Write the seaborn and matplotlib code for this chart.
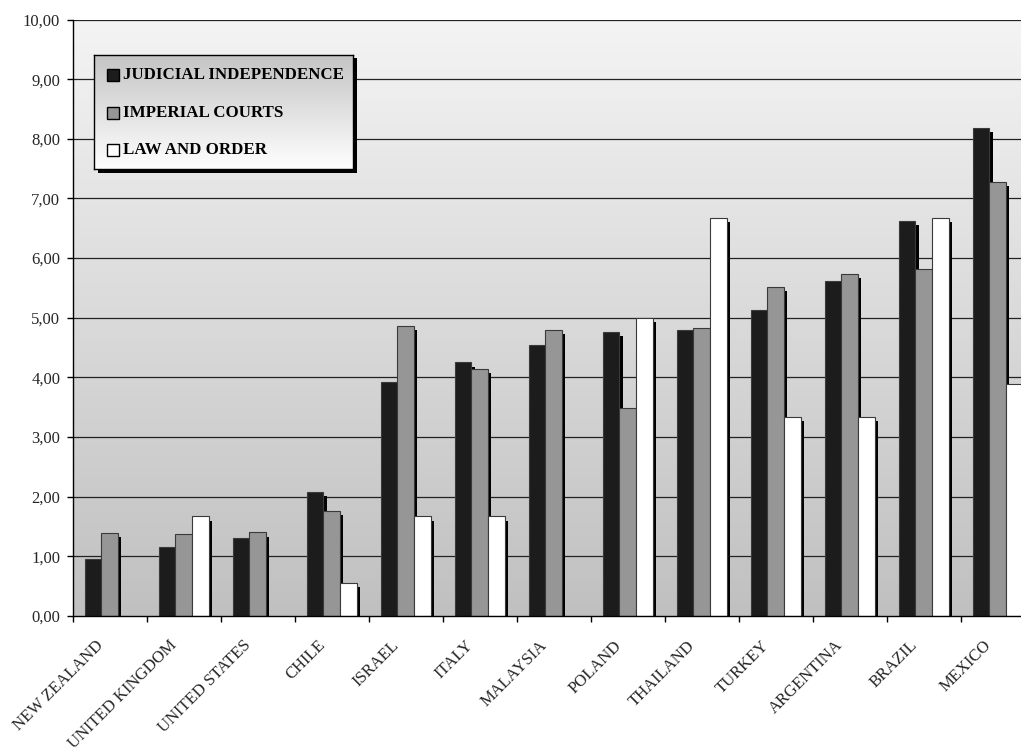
import numpy as np
import pandas as pd
import matplotlib
matplotlib.use("Agg")
import matplotlib.pyplot as plt
import matplotlib.patheffects as pe
import matplotlib.transforms as mtransforms
from matplotlib.colors import LinearSegmentedColormap
from matplotlib.patches import Rectangle
import seaborn as sns

countries = ["NEW ZEALAND", "UNITED KINGDOM", "UNITED STATES", "CHILE", "ISRAEL",
             "ITALY", "MALAYSIA", "POLAND", "THAILAND", "TURKEY", "ARGENTINA",
             "BRAZIL", "MEXICO"]
series = ["JUDICIAL INDEPENDENCE", "IMPERIAL COURTS", "LAW AND ORDER"]
judicial_independence = [0.95, 1.16, 1.30, 2.08, 3.93, 4.25, 4.54, 4.76, 4.80, 5.13, 5.62, 6.62, 8.18]
imperial_courts = [1.39, 1.38, 1.40, 1.76, 4.87, 4.14, 4.79, 3.48, 4.82, 5.52, 5.73, 5.81, 7.28]
law_and_order = [np.nan, 1.67, np.nan, 0.55, 1.67, 1.67, np.nan, 5.00, 6.67, 3.34, 3.34, 6.67, 3.89]
colors = ["#1c1c1c", "#969696", "#ffffff"]
yticks = [0, 1, 2, 3, 4, 5, 6, 7, 8, 9, 10]

sns.set_theme(style="white")
plt.rcParams["font.family"] = ["Liberation Serif", "DejaVu Serif"]

rows = []
for s, vals in zip(series, [judicial_independence, imperial_courts, law_and_order]):
    for c, v in zip(countries, vals):
        rows.append({"country": c, "series": s, "value": v})
df = pd.DataFrame(rows)

W, H = 1021, 747
fig = plt.figure(figsize=(W / 100, H / 100), dpi=100)
fig.patch.set_facecolor("white")
ax = fig.add_axes([72.7 / W, 1 - 616 / H, 962 / W, (616 - 19.5) / H])

# background gradient
cmap_bg = LinearSegmentedColormap.from_list("bg", ["#c0c0c0", "#f4f4f4"])
ax.imshow(np.linspace(0, 1, 256).reshape(-1, 1), cmap=cmap_bg, origin="lower",
          extent=[-0.5, 12.5, 0, 10], aspect="auto", zorder=0, interpolation="bicubic")

sns.barplot(data=df, x="country", y="value", hue="series", order=countries,
            hue_order=series, palette=colors, width=0.675, gap=0,
            edgecolor="#3a3a3a", linewidth=0.8, legend=False, ax=ax, zorder=3,
            saturation=1, errorbar=None)

for p in ax.patches:
    p.set_path_effects([pe.SimplePatchShadow(offset=(2.4, -3.0), shadow_rgbFace="black", alpha=1.0),
                        pe.Normal()])

ax.set_xlim(-0.5, 12.5)
ax.set_ylim(0, 10)
for yv in yticks[1:]:
    ax.axhline(yv, color="#222222", lw=0.9, zorder=1)

ax.set_yticks(yticks)
ax.set_yticklabels([f"{v:.2f}".replace(".", ",") for v in yticks], fontsize=12)
ax.set_xticks(range(len(countries)))
ax.set_xticklabels(countries, rotation=45, ha="right", rotation_mode="anchor", fontsize=12)
ax.set_xticks(np.arange(-0.5, 13, 1), minor=True)
ax.tick_params(axis="x", which="major", length=0, pad=15.5)
ax.tick_params(axis="x", which="minor", length=4, width=1, color="black", direction="out", bottom=True)
ax.tick_params(axis="y", length=4, width=1, color="black", direction="out", left=True, pad=5)
offset = mtransforms.ScaledTranslation(-0.145, 0, fig.dpi_scale_trans)
for lab in ax.get_xticklabels():
    lab.set_transform(lab.get_transform() + offset)

ax.set_xlabel("")
ax.set_ylabel("")
for side in ["top", "right"]:
    ax.spines[side].set_visible(False)
for side in ["left", "bottom"]:
    ax.spines[side].set_color("black")
    ax.spines[side].set_linewidth(1)
    ax.spines[side].set_zorder(5)

# legend box
lx0, lx1, ly0, ly1 = 94, 353, 55, 169
fig.patches.append(Rectangle(((lx0 + 3.5) / W, 1 - (ly1 + 3.5) / H), (lx1 - lx0) / W, (ly1 - ly0) / H,
                             transform=fig.transFigure, facecolor="black", edgecolor="none", zorder=9))
lax = fig.add_axes([lx0 / W, 1 - ly1 / H, (lx1 - lx0) / W, (ly1 - ly0) / H], zorder=10)
cmap_leg = LinearSegmentedColormap.from_list("leg", ["#ffffff", "#c4c4c4"])
lax.imshow(np.linspace(0, 1, 256).reshape(-1, 1), cmap=cmap_leg, origin="lower",
           extent=[0, 1, 0, 1], aspect="auto", interpolation="bicubic")
lax.set_xlim(0, 1)
lax.set_ylim(0, 1)
lax.set_xticks([])
lax.set_yticks([])
for sp in lax.spines.values():
    sp.set_color("black")
    sp.set_linewidth(1)
lw_px, lh_px = lx1 - lx0, ly1 - ly0
row_centers = [20, 57.7, 95]
for s, col, rc in zip(series, colors, row_centers):
    yc = 1 - rc / lh_px
    lax.add_patch(Rectangle((12.7 / lw_px, yc - 6 / lh_px), 12 / lw_px, 12 / lh_px,
                            facecolor=col, edgecolor="black", lw=1))
    lax.text(28.5 / lw_px, yc, s, fontsize=12.2, fontweight="bold", va="center", ha="left",
             color="black")

fig.savefig("out.png", dpi=100)
